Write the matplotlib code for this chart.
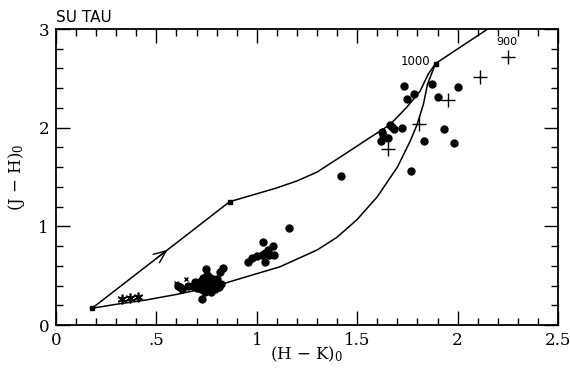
import matplotlib
matplotlib.use("Agg")
import matplotlib.pyplot as plt
from matplotlib.ticker import MultipleLocator, FixedLocator, FixedFormatter

plt.rcParams['font.family'] = ['DejaVu Serif']
plt.rcParams['mathtext.fontset'] = 'dejavuserif'

# model track: straight segment then upper curve to the 1000 / 900 points
upper_x = [0.18, 0.865, 1.0, 1.1, 1.2, 1.3, 1.414, 1.564, 1.663, 1.748, 1.813, 1.853, 1.89, 2.15]
upper_y = [0.17, 1.25, 1.33, 1.39, 1.46, 1.55, 1.70, 1.90, 2.03, 2.21, 2.37, 2.54, 2.65, 3.0]
# lower model curve
lower_x = [0.18, 0.3, 0.45, 0.6, 0.78, 0.93, 1.115, 1.3, 1.4, 1.5, 1.6, 1.7,
           1.763, 1.798, 1.83, 1.85, 1.89]
lower_y = [0.17, 0.21, 0.254, 0.31, 0.386, 0.478, 0.59, 0.76, 0.89, 1.07, 1.30, 1.60,
           1.86, 2.03, 2.24, 2.44, 2.65]
node_x = [0.18, 0.865, 1.89]
node_y = [0.17, 1.25, 2.65]

# filled circles
dot_x = [0.61, 0.62, 0.63, 0.655, 0.725, 0.745, 0.815, 0.83,
         0.70, 0.71, 0.72, 0.73, 0.73, 0.74, 0.74, 0.75, 0.75, 0.75, 0.76, 0.76,
         0.77, 0.77, 0.78, 0.78, 0.79, 0.79, 0.80, 0.81, 0.68, 0.69, 0.72, 0.76,
         0.80, 0.82, 0.71, 0.74, 0.77,
         0.955, 0.975, 1.0, 1.025, 1.04, 1.04, 1.055, 1.06, 1.08, 1.085, 1.03, 1.16,
         1.42, 1.77, 1.62, 1.63, 1.655, 1.623, 1.663, 1.673, 1.683, 1.723,
         1.833, 1.93, 1.98, 1.733, 1.748, 1.783, 1.873, 1.90, 2.0]
dot_y = [0.40, 0.39, 0.37, 0.40, 0.26, 0.57, 0.54, 0.58,
         0.38, 0.42, 0.45, 0.40, 0.48, 0.36, 0.43, 0.39, 0.46, 0.51, 0.41, 0.35,
         0.44, 0.38, 0.42, 0.47, 0.40, 0.36, 0.43, 0.39, 0.40, 0.44, 0.36, 0.49,
         0.47, 0.42, 0.39, 0.33, 0.33,
         0.64, 0.68, 0.70, 0.71, 0.73, 0.64, 0.76, 0.71, 0.80, 0.71, 0.84, 0.985,
         1.51, 1.56, 1.86, 1.93, 1.90, 1.96, 2.03, 2.01, 1.99, 2.0,
         1.86, 1.99, 1.84, 2.42, 2.29, 2.34, 2.44, 2.31, 2.41]

# plus signs
plus_x = [1.655, 1.81, 1.95, 2.11, 2.25]
plus_y = [1.78, 2.04, 2.28, 2.51, 2.72]

# asterisks
star_x = [0.33, 0.37, 0.41]
star_y = [0.265, 0.275, 0.285]

# small crosses
cross_x = [0.646, 0.60]
cross_y = [0.47, 0.43]

fig = plt.figure(figsize=(5.7, 3.7), dpi=100)
ax = fig.add_axes([0.0982, 0.1216, 0.8808, 0.80])

lk = dict(color='black', lw=1.1, solid_joinstyle='round')
ax.plot(upper_x, upper_y, **lk)
ax.plot(lower_x, lower_y, **lk)
ax.plot(node_x, node_y, 's', color='black', ms=2.5)

# arrow head on the straight segment
ax.annotate('', xy=(0.556, 0.763), xytext=(0.50, 0.675),
            arrowprops=dict(arrowstyle='->,head_length=0.6,head_width=0.25',
                            color='black', lw=1.0, mutation_scale=15,
                            shrinkA=0, shrinkB=0))

ax.plot(dot_x, dot_y, 'o', color='black', ms=5, mec='black')
ax.plot(plus_x, plus_y, '+', color='black', ms=10, mew=1.0)
ax.plot(star_x, star_y, marker=(6, 2, 0), ls='none', color='black', ms=7, mew=1.2)
ax.plot(cross_x, cross_y, 'x', color='black', ms=3.5, mew=1.0)

ax.text(1.865, 2.67, '1000', ha='right', va='center', fontsize=8.5, family='DejaVu Sans')
ax.text(2.19, 2.82, '900', ha='left', va='bottom', fontsize=8, family='DejaVu Sans')

ax.set_xlim(0, 2.5)
ax.set_ylim(0, 3)
ax.xaxis.set_major_locator(FixedLocator([0, 0.5, 1, 1.5, 2, 2.5]))
ax.xaxis.set_major_formatter(FixedFormatter(['0', '.5', '1', '1.5', '2', '2.5']))
ax.xaxis.set_minor_locator(MultipleLocator(0.1))
ax.yaxis.set_major_locator(MultipleLocator(1))
ax.yaxis.set_minor_locator(MultipleLocator(0.2))
ax.tick_params(which='both', direction='in', top=True, right=True, labelsize=12, width=1)
ax.tick_params(which='major', length=10, pad=5)
ax.tick_params(which='minor', length=5)
for s in ax.spines.values():
    s.set_linewidth(1.3)

ax.set_xlabel('(H $-$ K)$_0$', fontsize=12, labelpad=-3)
ax.set_ylabel('(J $-$ H)$_0$', fontsize=12, labelpad=8)
ax.text(0.0, 1.015, 'SU TAU', transform=ax.transAxes, ha='left', va='bottom',
        fontsize=11, family='DejaVu Sans')

fig.savefig('out.png', dpi=100)
